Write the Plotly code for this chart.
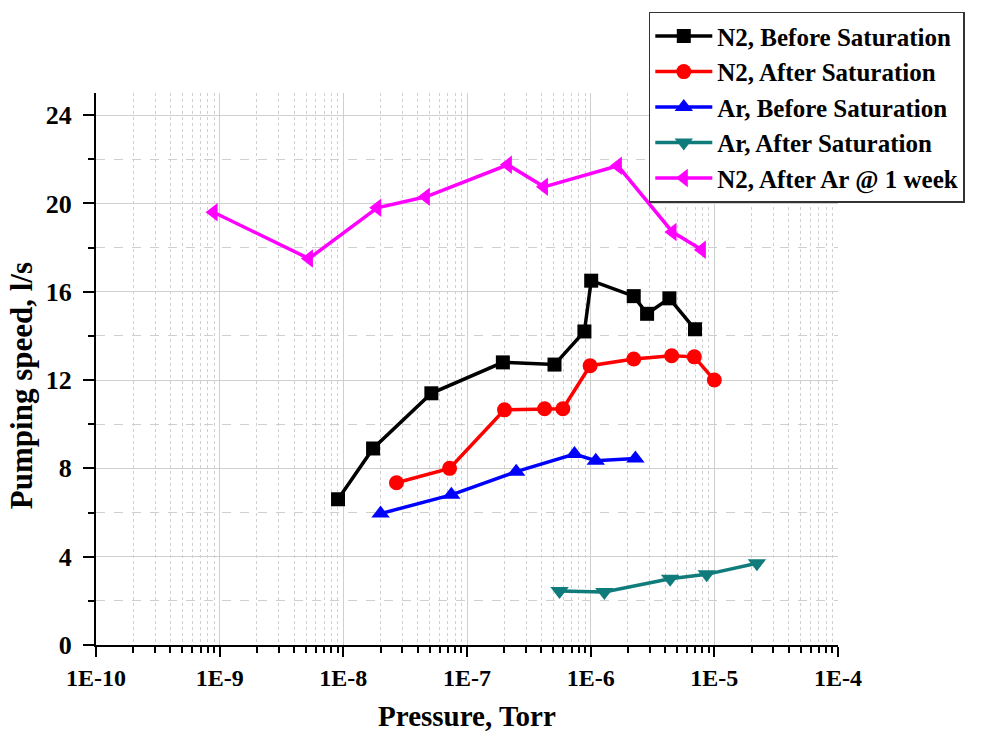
import plotly.graph_objects as go

# Data
n2_before_p = [9.06e-9, 1.74e-8, 5.15e-8, 1.95e-7, 5.1e-7, 8.9e-7, 1.01e-6, 2.23e-6, 2.86e-6, 4.33e-6, 6.98e-6]
n2_before_s = [6.6, 8.9, 11.4, 12.8, 12.7, 14.2, 16.5, 15.8, 15.0, 15.7, 14.3]

n2_after_p = [2.69e-8, 7.23e-8, 2.01e-7, 4.24e-7, 5.96e-7, 9.9e-7, 2.23e-6, 4.52e-6, 6.89e-6, 1.0e-5]
n2_after_s = [7.35, 8.0, 10.65, 10.7, 10.7, 12.65, 12.95, 13.1, 13.05, 12.0]

ar_before_p = [2.0e-8, 7.47e-8, 2.5e-7, 7.4e-7, 1.1e-6, 2.3e-6]
ar_before_s = [5.95, 6.8, 7.85, 8.65, 8.35, 8.45]

ar_after_p = [5.6e-7, 1.29e-6, 4.39e-6, 8.67e-6, 2.21e-5]
ar_after_s = [2.45, 2.4, 3.0, 3.2, 3.7]

n2_ar_p = [8.93e-10, 5.27e-9, 1.88e-8, 4.65e-8, 2.14e-7, 4.19e-7, 1.66e-6, 4.59e-6, 7.93e-6]
n2_ar_s = [19.6, 17.5, 19.8, 20.3, 21.75, 20.75, 21.7, 18.7, 17.9]

x_tickvals = [1e-10, 1e-9, 1e-8, 1e-7, 1e-6, 1e-5, 1e-4]
x_ticktext = ["1E-10", "1E-9", "1E-8", "1E-7", "1E-6", "1E-5", "1E-4"]
y_tickvals = [0, 4, 8, 12, 16, 20, 24]

x_title = "Pressure, Torr"
y_title = "Pumping speed, l/s"

series = [
    ("N2, Before Saturation", n2_before_p, n2_before_s, "#000000", "square", 14),
    ("N2, After Saturation", n2_after_p, n2_after_s, "#ff0000", "circle", 15),
    ("Ar, Before Saturation", ar_before_p, ar_before_s, "#0000ff", "triangle-up", 16),
    ("Ar, After Saturation", ar_after_p, ar_after_s, "#0f7b7b", "triangle-down", 16),
    ("N2, After Ar @ 1 week", n2_ar_p, n2_ar_s, "#ff00ff", "triangle-left", 16),
]

fig = go.Figure()
for name, xs, ys, color, sym, size in series:
    fig.add_trace(go.Scatter(
        x=xs, y=ys, name=name, mode="lines+markers",
        line=dict(color=color, width=3.5),
        marker=dict(symbol=sym, size=size, color=color),
    ))

minor_x = [k * 10.0 ** e for e in range(-10, -4) for k in range(2, 10)]

font_family = "Liberation Serif, Times New Roman, serif"

fig.update_layout(
    width=981, height=733,
    margin=dict(l=96, r=143, t=93, b=88),
    paper_bgcolor="white", plot_bgcolor="white",
    font=dict(family=font_family, color="black"),
    legend=dict(
        x=0.745, y=1.147, xanchor="left", yanchor="top",
        bgcolor="white", bordercolor="#333333", borderwidth=1.5,
        font=dict(family=font_family, size=25, color="black", weight="bold"),
        tracegroupgap=0, itemsizing="trace", itemwidth=57,
    ),
    xaxis=dict(
        type="log", range=[-10, -4], automargin=False,
        tickvals=x_tickvals, ticktext=x_ticktext,
        ticks="outside", ticklen=10, tickwidth=2, tickcolor="black",
        showline=True, linecolor="black", linewidth=2,
        showgrid=True, gridcolor="#cfcfcf", gridwidth=1,
        zeroline=False,
        tickfont=dict(family=font_family, size=24, color="black", weight="bold"),
        title=dict(text=x_title, standoff=16,
                   font=dict(family=font_family, size=29, color="black", weight="bold")),
        minor=dict(tickvals=minor_x, ticks="outside", ticklen=6, tickwidth=1.5,
                   tickcolor="black", showgrid=True, gridcolor="#cfcfcf",
                   griddash="dot", gridwidth=1),
    ),
    yaxis=dict(
        range=[0, 25], tickvals=y_tickvals, automargin=False,
        ticks="outside", ticklen=11, tickwidth=2, tickcolor="black",
        ticklabelstandoff=6,
        showline=True, linecolor="black", linewidth=2,
        showgrid=True, gridcolor="#cfcfcf", gridwidth=1,
        zeroline=False,
        tickfont=dict(family=font_family, size=26, color="black", weight="bold"),
        minor=dict(dtick=2, ticks="outside", ticklen=6, tickwidth=1.5,
                   tickcolor="black", showgrid=True, gridcolor="#cfcfcf",
                   griddash="dash", gridwidth=1),
    ),
    annotations=[dict(
        text=y_title, textangle=-90, xref="paper", yref="paper",
        x=-0.074, y=0.47, xanchor="right", yanchor="middle", showarrow=False,
        font=dict(family=font_family, size=31, color="black", weight="bold"),
    )],
)

fig.write_html("out.html", config={"displayModeBar": False},
               post_script="document.body.style.margin='0';")
